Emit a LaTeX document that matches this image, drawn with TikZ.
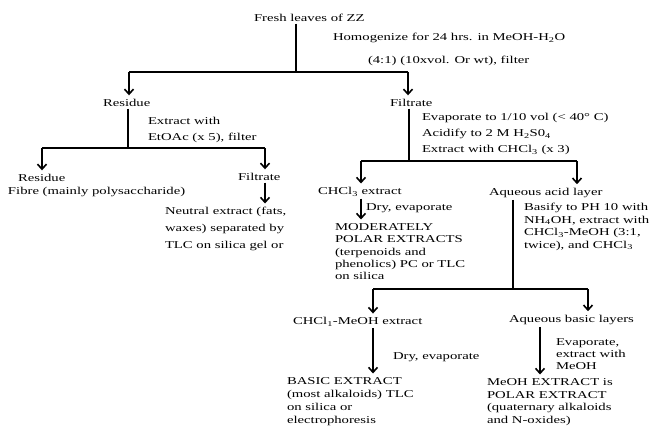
\documentclass[tikz,border=0pt]{standalone}
\usepackage{fontspec}
\setmainfont{Liberation Serif}[FakeStretch=1.4]
\usetikzlibrary{arrows.meta}
\newcommand\fsz[1]{\fontsize{10.5pt}{#1}\selectfont}
\begin{document}
\begin{tikzpicture}[x=1pt,y=-1pt,
  txt/.style={inner sep=0pt,outer sep=0pt,anchor=west,font=\fsz{12.5pt}},
  blk/.style={inner sep=0pt,outer sep=0pt,anchor=north west,align=left,font=\fsz{#1}},
  ln/.style={line width=1.6pt,shorten <=2pt},
  hl/.style={line width=1.6pt},
  arr/.style={line width=1.6pt,-{Straight Barb[length=5pt,width=9pt]},shorten >=4pt}]
\useasboundingbox (0,0) rectangle (651,428);
% texts
\node[txt] (fresh) at (254,18) {Fresh leaves of ZZ};
\node[txt] (hom1) at (333,38) {Homogenize for 24 hrs. in MeOH-H\textsubscript{2}O};
\node[txt] (hom2) at (368,61) {(4:1) (10xvol. Or wt), filter};
\node[txt] (res1) at (103,103) {Residue};
\node[txt] (fil1) at (390,103) {Filtrate};
\node[blk=16pt] (ext1) at (148,117.5) {Extract with\\EtOAc (x 5), filter};
\node[txt] (res2) at (18,178) {Residue};
\node[txt] (fibre) at (8,192) {Fibre (mainly polysaccharide)};
\node[txt] (fil2) at (238,177) {Filtrate};
\node[blk=17pt] (neutral) at (165,207.5) {Neutral extract (fats,\\waxes) separated by\\TLC on silica gel or};
\node[blk=16pt] (evap) at (422,113.5) {Evaporate to 1/10 vol (< 40° C)\\Acidify to 2 M H\textsubscript{2}S0\textsubscript{4}\\Extract with CHCl\textsubscript{3} (x 3)};
\node[txt] (chcl) at (318,192) {CHCl\textsubscript{3} extract};
\node[txt] (dry1) at (366,208) {Dry, evaporate};
\node[blk=12.3pt] (mod) at (335,223.5) {MODERATELY\\POLAR EXTRACTS\\(terpenoids and\\phenolics) PC or TLC\\on silica};
\node[txt] (aqa) at (489,193) {Aqueous acid layer};
\node[blk=12.4pt] (bas) at (524,203.5) {Basify to PH 10 with\\NH\textsubscript{4}OH, extract with\\CHCl\textsubscript{3}-MeOH (3:1,\\twice), and CHCl\textsubscript{3}};
\node[txt] (cme) at (293,322) {CHCl\textsubscript{1}-MeOH extract};
\node[txt] (dry2) at (393,357) {Dry, evaporate};
\node[blk=13pt] (basic) at (287,377.5) {BASIC EXTRACT\\(most alkaloids) TLC\\on silica or\\electrophoresis};
\node[txt] (aqb) at (509,320) {Aqueous basic layers};
\node[blk=12pt] (evap2) at (556,338.5) {Evaporate,\\extract with\\MeOH};
\node[blk=12.7pt] (meoh) at (487,378.5) {MeOH EXTRACT is\\POLAR EXTRACT\\(quaternary alkaloids\\and N-oxides)};
% junctions
\coordinate (j1) at (296,72);
\coordinate (j1L) at (129,72);
\coordinate (j1R) at (408,72);
\coordinate (j2) at (128,148);
\coordinate (j2L) at (42,148);
\coordinate (j2R) at (265,148);
\coordinate (j3) at (409,161);
\coordinate (j3L) at (361,161);
\coordinate (j3R) at (577,161);
\coordinate (j4) at (513,289);
\coordinate (j4L) at (373,289);
\coordinate (j4R) at (588,289);
\coordinate (a5) at (540,330);
% connectors
\draw[ln] (fresh.south -| j1) -- (j1);
\draw[hl] (j1L) -- (j1R);
\draw[arr] (j1L) -- (j1L |- res1.north);
\draw[arr] (j1R) -- (j1R |- fil1.north);
\draw[ln] (res1.south -| j2) -- (j2);
\draw[hl] (j2L) -- (j2R);
\draw[arr] (j2L) -- (j2L |- res2.north);
\draw[arr] (j2R) -- (j2R |- fil2.north);
\draw[arr,shorten <=2pt] (fil2.south -| j2R) -- (j2R |- neutral.north);
\draw[ln] (fil1.south -| j3) -- (j3);
\draw[hl] (j3L) -- (j3R);
\draw[arr] (j3L) -- (j3L |- chcl.north);
\draw[arr] (j3R) -- (j3R |- aqa.north);
\draw[arr,shorten <=2pt] (chcl.south -| j3L) -- (j3L |- mod.north);
\draw[ln] (aqa.south -| j4) -- (j4);
\draw[hl] (j4L) -- (j4R);
\draw[arr] (j4L) -- (j4L |- cme.north);
\draw[arr] (j4R) -- (j4R |- aqb.north);
\draw[arr,shorten <=2pt] (cme.south -| j4L) -- (j4L |- basic.north);
\draw[arr,shorten <=2pt] (aqb.south -| a5) -- (a5 |- meoh.north);
\end{tikzpicture}
\end{document}
